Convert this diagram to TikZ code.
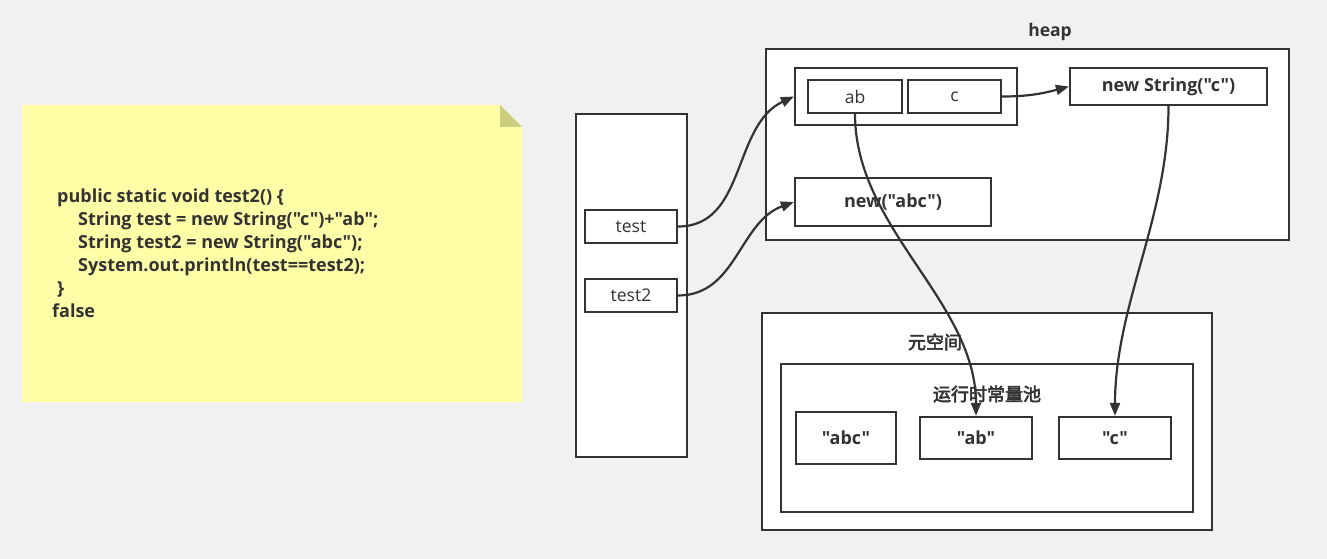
\documentclass[tikz,border=0pt]{standalone}
\usepackage{fontspec}
\setmainfont{Open Sans}[Ligatures=TeXOff]
\newfontfamily\cjk{Noto Sans CJK SC}[AutoFakeBold=3]
\usetikzlibrary{arrows.meta}

\definecolor{linec}{HTML}{333333}
\definecolor{bgc}{HTML}{F1F1F1}
\definecolor{notec}{HTML}{FFFFA8}
\definecolor{foldc}{HTML}{CDCD7F}

\tikzset{
  box/.style={draw=linec, fill=white, line width=2.2pt, inner sep=0pt,
    text=linec, font=\fontsize{18}{21}\selectfont\bfseries},
  slot/.style={box, font=\fontsize{17.5}{21}\selectfont},
  title/.style={text=linec, font=\fontsize{17.5}{21}\selectfont\bfseries},
  cjktitle/.style={text=linec, font=\fontsize{18}{21}\selectfont\cjk\bfseries},
  ref/.style={draw=linec, line width=2.2pt, -{Triangle[length=13pt,width=10pt]}}
}

\begin{document}
\begin{tikzpicture}[x=1pt, y=-1pt]
    \fill[bgc] (0,0) rectangle (1327,559);
    \useasboundingbox (0,0) rectangle (1327,559);

    % note with the code
    \fill[notec] (22,105) -- (500,105) -- (522,127) -- (522,402) -- (22,402) -- cycle;
    \fill[foldc] (500,105) -- (522,127) -- (500,127) -- cycle;
    \node[anchor=west, align=left, text=linec, inner sep=0pt,
      font=\fontsize{18}{23}\selectfont\bfseries] (code) at (52,253)
      {\hspace*{5pt}public static void test2() \{\\
       \hspace*{26pt}String test = new String("c")+"ab";\\
       \hspace*{26pt}String test2 = new String("abc");\\
       \hspace*{26pt}System.out.println(test==test2);\\
       \hspace*{5pt}\}\\
       false};

    % stack
    \node[box, minimum width=111pt, minimum height=343pt] (stack) at (631.5,285.5) {};
    \node[slot, minimum width=92pt, minimum height=33pt] (test) at (631,226.5) {test};
    \node[slot, minimum width=92pt, minimum height=33pt] (test2) at (631,295.5) {test2};

    % heap
    \node[box, minimum width=523pt, minimum height=191pt] (heap) at (1027.5,144.5) {};
    \node[title] (heaplbl) at (1050,32) {heap};
    \node[box, minimum width=222pt, minimum height=57pt] (grp) at (906,96.5) {};
    \node[slot, minimum width=94pt, minimum height=33pt] (ab) at (855,96.5) {ab};
    \node[slot, minimum width=93pt, minimum height=33pt] (c) at (954.5,96.5) {c};
    \node[box, minimum width=197pt, minimum height=37pt] (newc) at (1168.5,86.5) {new String("c")};
    \node[box, minimum width=196pt, minimum height=48pt] (newabc) at (893,202) {new("abc")};

    % metaspace
    \node[box, minimum width=450pt, minimum height=217pt] (meta) at (987,421.5) {};
    \node[cjktitle] (metalbl) at (935,342) {元空间};
    \node[box, minimum width=412pt, minimum height=148pt] (pool) at (987,438) {};
    \node[cjktitle] (poollbl) at (987,394) {运行时常量池};
    \node[box, minimum width=100pt, minimum height=52pt] (sabc) at (846,438) {"abc"};
    \node[box, minimum width=112pt, minimum height=42pt] (sab) at (976,438) {"ab"};
    \node[box, minimum width=112pt, minimum height=42pt] (sc) at (1115,438) {"c"};

    % references
    \draw[ref] (test.east) to[out=0, in=205] (grp.west);
    \draw[ref] (test2.east) to[out=0, in=200] (newabc.west);
    \draw[ref] (c.east) to[out=0, in=195] (newc.west);
    \draw[ref] (ab.south) to[out=-90, in=90, looseness=0.9] (sab.north);
    \draw[ref] (newc.south) to[out=-90, in=90, looseness=0.9] (sc.north);
\end{tikzpicture}
\end{document}
